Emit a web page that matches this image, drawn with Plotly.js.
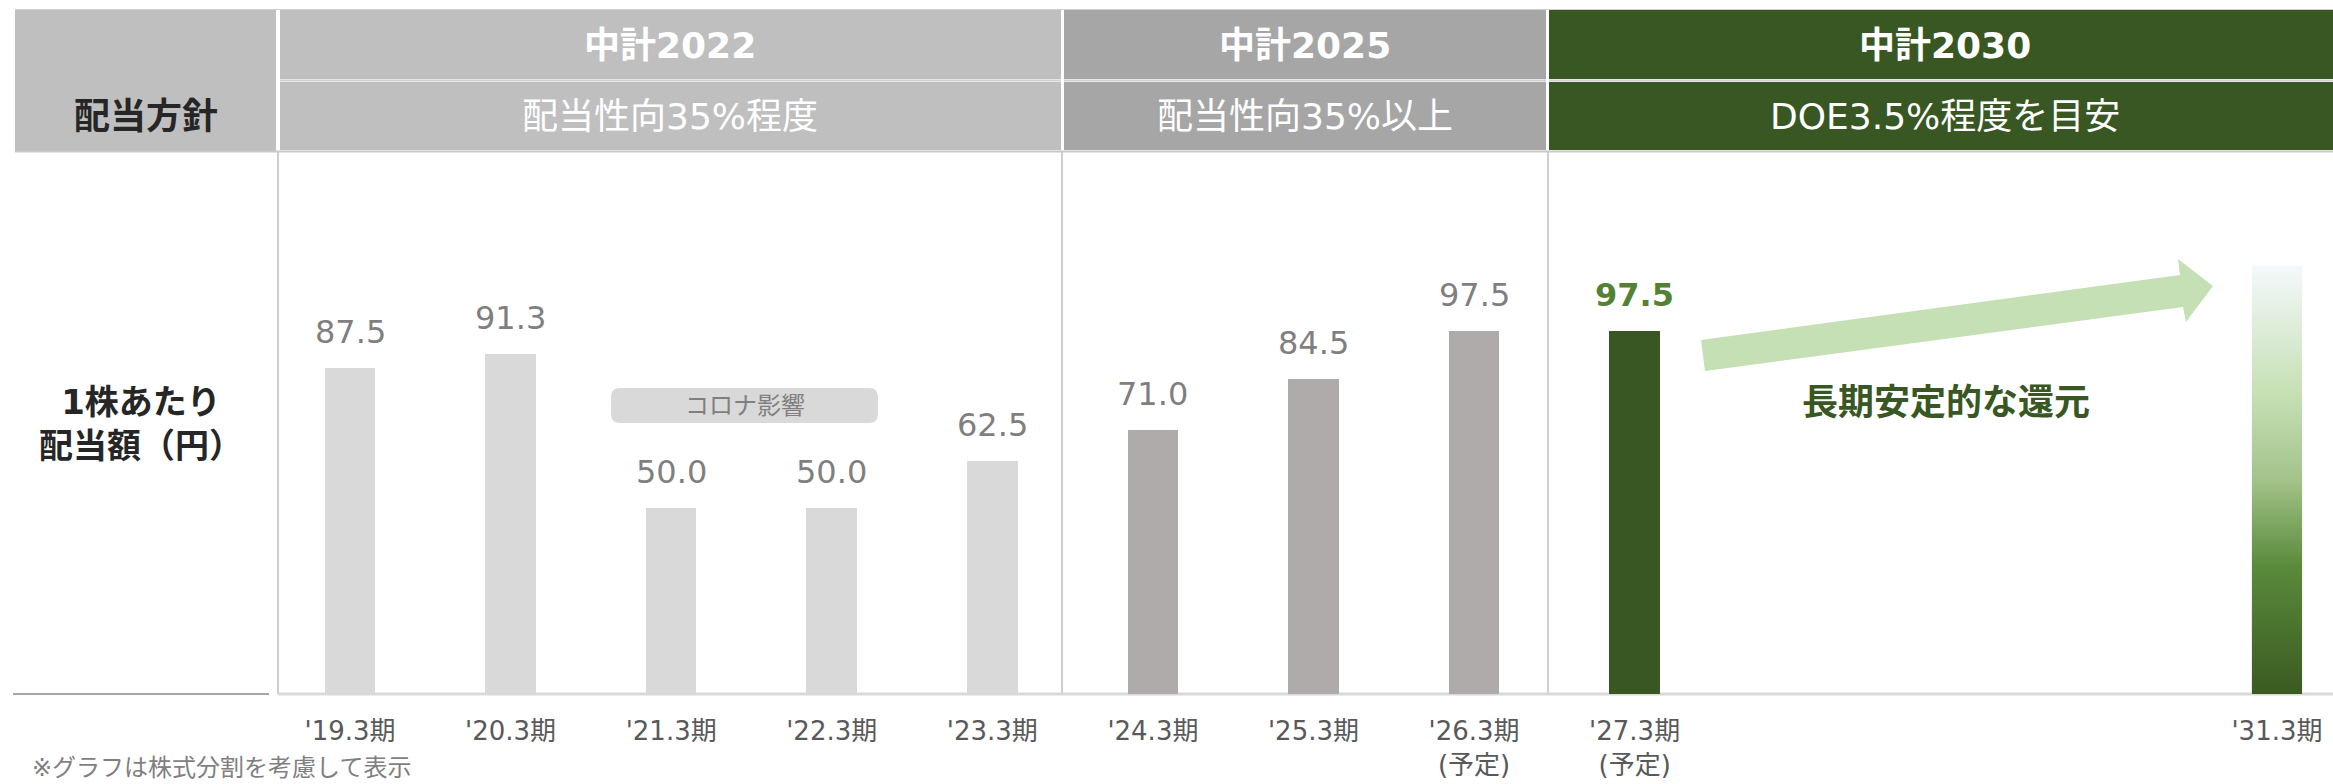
<!DOCTYPE html>
<html>
<head>
<meta charset="utf-8">
<script src="https://cdn.plot.ly/plotly-3.0.1.min.js"></script>
<style>html,body{margin:0;padding:0;background:#fff;}#chart{width:2333px;height:784px;}</style>
</head>
<body>
<div id="chart"></div>
<script>
// ---- data ----
const categories = ["'19.3期","'20.3期","'21.3期","'22.3期","'23.3期","'24.3期","'25.3期","'26.3期","'27.3期","'31.3期"];
const periodIndex = [0,1,2,3,4,5,6,7,8,12];
const dividends = [87.5, 91.3, 50.0, 50.0, 62.5, 71.0, 84.5, 97.5, 97.5, 115];
const forecastNotes = ["","","","","","","","(予定)","(予定)",""];
const barGroups = ["2022","2022","2022","2022","2022","2025","2025","2025","2030","target"];
const planNames = ["中計2022","中計2025","中計2030"];
const planPolicies = ["配当性向35%程度","配当性向35%以上","DOE3.5%程度を目安"];
const rowLabelPolicy = "配当方針";
const rowLabelDividend = "1株あたり<br>配当額（円）";
const covidNote = "コロナ影響";
const longTermNote = "長期安定的な還元";
const footnote = "※グラフは株式分割を考慮して表示";

// ---- styling ----
const W = 2333, H = 784, MT = 160, MB = 90;
const FONT = "DejaVu Sans, Noto Sans CJK JP, sans-serif";
const groupColor = {"2022":"#d9d9d9","2025":"#afabab","2030":"#385723","target":"#548235"};
const X = px => px / W;
const Y = py => (H - MB - py) / (H - MT - MB);
const barWidth = 0.315;

const ticktext = categories.map((c,i) => forecastNotes[i] ? c + "<br>" + forecastNotes[i] : c);

const trace = {
  type: "bar",
  x: periodIndex,
  y: dividends,
  width: barWidth,
  marker: {color: barGroups.map(g => groupColor[g]), line: {width: 0}},
  hoverinfo: "skip"
};

const shapes = [];
const annotations = [];
function rect(x0,y0,x1,y1,color){
  shapes.push({type:"rect", xref:"paper", yref:"paper", x0:X(x0), x1:X(x1), y0:Y(y1), y1:Y(y0),
    fillcolor:color, line:{width:0}, layer:"below"});
}
function line(x0,y0,x1,y1,color,w){
  shapes.push({type:"line", xref:"paper", yref:"paper", x0:X(x0), x1:X(x1), y0:Y(y0), y1:Y(y1),
    line:{color:color, width:w}, layer:"below"});
}
function text(t,cx,cy,size,color,bold,extra){
  annotations.push(Object.assign({text: bold ? "<b>"+t+"</b>" : t, xref:"paper", yref:"paper", x:X(cx), y:Y(cy),
    xanchor:"center", yanchor:"middle", showarrow:false, font:{family:FONT, size:size, color:color}}, extra||{}));
}

// header band
line(15, 9.5, W, 9.5, "#d0d0d0", 1);
rect(15, 10, 276, 151, "#bfbfbf");
const cells = [[280,1061,"#bfbfbf"],[1064,1546,"#a6a6a6"],[1549,W,"#385723"]];
cells.forEach((c,i) => {
  rect(c[0], 10, c[1], 79, c[2]);
  rect(c[0], 82, c[1], 150, c[2]);
  line(c[0], 80.5, c[1], 80.5, "#d0d0d0", 2);
});
line(15, 151.5, W, 151.5, "#c8c8c8", 2);
const centers = [670, 1305, 1945];
planNames.forEach((n,i) => text(n, centers[i], 46, 36, "#ffffff", true));
planPolicies.forEach((p,i) => text(p, centers[i], 117, 36, "#ffffff", false));
text(rowLabelPolicy, 146, 117, 36, "#262626", true);
text(rowLabelDividend, 141, 424, 34, "#262626", true, {align:"center"});

// dividers and baseline
[278, 1062, 1548].forEach(x => line(x, 152, x, 694, "#bfbfbf", 1.5));
line(13, 694, 269, 694, "#a6a6a6", 2);
line(278, 694, W, 694, "#d9d9d9", 3);

// COVID box (rounded)
(function(){
  const x0=611,x1=878,y0=388,y1=423,r=9;
  const p = [
    "M",X(x0+r),Y(y0),"L",X(x1-r),Y(y0),"Q",X(x1),Y(y0),X(x1),Y(y0+r),
    "L",X(x1),Y(y1-r),"Q",X(x1),Y(y1),X(x1-r),Y(y1),
    "L",X(x0+r),Y(y1),"Q",X(x0),Y(y1),X(x0),Y(y1-r),
    "L",X(x0),Y(y0+r),"Q",X(x0),Y(y0),X(x0+r),Y(y0),"Z"];
  let s=""; for(let i=0;i<p.length;i++){ s += (typeof p[i]==="string") ? p[i] : p[i].toFixed(6)+(typeof p[i+1]==="number"?",":" "); }
  shapes.push({type:"path", xref:"paper", yref:"paper", path:s, fillcolor:"#d9d9d9", line:{width:0}, layer:"below"});
})();
text(covidNote, 745, 406, 24, "#7f7f7f", false);

// arrow
(function(){
  const pts=[[1705,371],[1701,340],[2180,275],[2178,259],[2213,286],[2186,322],[2183,307]];
  const s = pts.map((p,i)=>(i?"L":"M")+X(p[0]).toFixed(6)+","+Y(p[1]).toFixed(6)).join(" ")+" Z";
  shapes.push({type:"path", xref:"paper", yref:"paper", path:s, fillcolor:"#c5e0b4", line:{width:0}, layer:"above"});
})();
text(longTermNote, 1946, 402, 36, "#385723", true);

// footnote
annotations.push({text:footnote, xref:"paper", yref:"paper", x:X(30), y:Y(768), xanchor:"left", yanchor:"middle",
  showarrow:false, font:{family:FONT, size:24, color:"#7f7f7f"}});

// value labels
dividends.forEach((v,i) => {
  if (barGroups[i] === "target") return;
  const green = barGroups[i] === "2030";
  annotations.push({xref:"x", yref:"y", x:periodIndex[i], y:v, yanchor:"middle", xanchor:"center", yshift:36,
    showarrow:false, text: green ? "<b>"+v.toFixed(1)+"</b>" : v.toFixed(1),
    font:{family:FONT, size:32, color: green ? "#548235" : "#7f7f7f"}});
});

// gradient bar image for long-term target
const images = [];
dividends.forEach((v,i) => {
  if (barGroups[i] !== "target") return;
  const svg = "<svg xmlns='http://www.w3.org/2000/svg' width='10' height='100' viewBox='0 0 10 100' preserveAspectRatio='none'>" +
    "<defs><linearGradient id='g' x1='0' y1='0' x2='0' y2='1'>" +
    "<stop offset='0' stop-color='#f4f8fc'/><stop offset='0.3' stop-color='#c6e0b4'/>" +
    "<stop offset='0.5' stop-color='#a3c38a'/><stop offset='0.7' stop-color='#5a8b3b'/>" +
    "<stop offset='1' stop-color='#3a5a22'/></linearGradient></defs>" +
    "<rect x='0' y='0' width='10' height='100' fill='url(#g)'/></svg>";
  images.push({source:"data:image/svg+xml;base64," + btoa(svg), xref:"x", yref:"y",
    x: periodIndex[i] - barWidth/2, y: v, sizex: barWidth, sizey: v,
    xanchor:"left", yanchor:"top", sizing:"stretch", layer:"above"});
});

const pxPerUnit = 160.58;
const x0 = -350 / pxPerUnit;
const layout = {
  width: W, height: H,
  margin: {l:0, r:0, t:MT, b:MB, pad:0},
  paper_bgcolor: "#ffffff", plot_bgcolor: "rgba(0,0,0,0)",
  showlegend: false,
  bargap: 0,
  xaxis: {range:[x0, x0 + W/pxPerUnit], tickvals: periodIndex, ticktext: ticktext, showgrid:false, zeroline:false,
    showline:false, ticks:"", ticklabelstandoff: 19, tickfont:{family:FONT, size:26, color:"#595959"}, fixedrange:true},
  yaxis: {range:[0, (H-MT-MB)/3.725], visible:false, showgrid:false, zeroline:false, fixedrange:true},
  shapes: shapes, annotations: annotations, images: images,
  font: {family: FONT}
};
Plotly.newPlot("chart", [trace], layout, {staticPlot:true, displayModeBar:false});
</script>
</body>
</html>
